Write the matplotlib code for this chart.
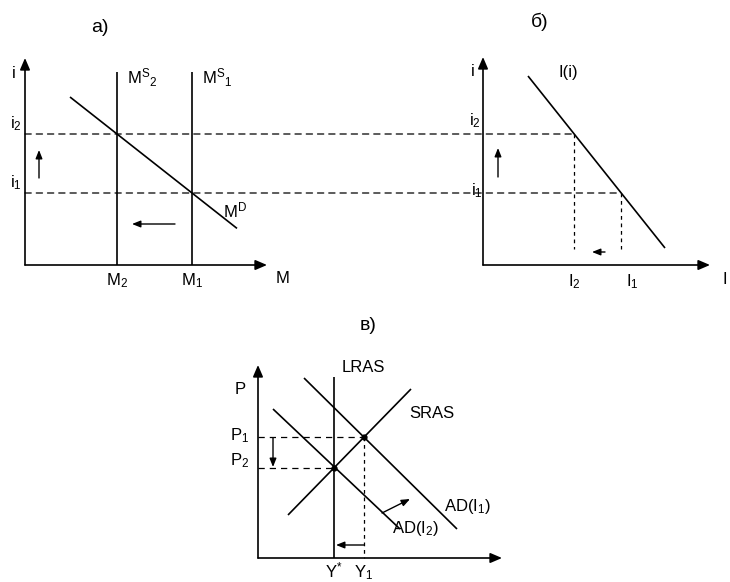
import matplotlib.pyplot as plt
from matplotlib.patches import ConnectionPatch

plt.rcParams['font.family'] = ['Liberation Sans', 'DejaVu Sans']
plt.rcParams['mathtext.fontset'] = 'custom'
plt.rcParams['mathtext.rm'] = 'Liberation Sans'
plt.rcParams['mathtext.it'] = 'Liberation Sans'

W, H = 730, 582
PX = 20  # pixels per diagram unit

# а) money market
m_supply = [4.6, 8.35]          # M2, M1
m_supply_names = [r'$\mathregular{M_2}$', r'$\mathregular{M_1}$']
m_supply_top = 9.65
rates = [6.55, 3.6]             # i2, i1
rate_names = [r'$\mathregular{i_2}$', r'$\mathregular{i_1}$']
m_demand_x = [2.25, 10.6]
m_demand_y = [8.4, 1.83]

# б) investment demand
invest = [4.55, 6.9]            # I2, I1
invest_names = [r'$\mathregular{I_2}$', r'$\mathregular{I_1}$']
invest_x = [2.25, 9.1]
invest_y = [9.45, 0.85]
invest_floor = 0.8

# в) AD-AS
y_levels = [3.8, 5.3]           # Y*, Y1
y_names = [r'$\mathregular{Y^{*}}$', r'$\mathregular{Y_1}$']
p_levels = [4.5, 6.05]          # P2, P1
p_names = [r'$\mathregular{P_2}$', r'$\mathregular{P_1}$']
lras_top = 9.05
sras_x, sras_y = [1.5, 7.65], [2.15, 8.45]
ad1_x, ad1_y = [2.3, 9.95], [9.0, 1.45]
ad2_x, ad2_y = [0.75, 7.1], [7.45, 1.45]

fig = plt.figure(figsize=(W / 100, H / 100), dpi=100)
fig.patch.set_facecolor('white')
FS = 12
TFS = 14
LW = 1.2


def arrow(ax, start, end, lw=LW, hl=0.7, hw=0.3):
    ax.annotate('', xy=end, xytext=start, annotation_clip=False,
                arrowprops=dict(arrowstyle=f'-|>,head_length={hl},head_width={hw}',
                                color='black', lw=lw, shrinkA=0, shrinkB=0))


def panel(ox, oy, w, h):
    ax = fig.add_axes([ox / W, (H - oy) / H, w * PX / W, h * PX / H])
    ax.set_xlim(0, w)
    ax.set_ylim(0, h)
    ax.axis('off')
    arrow(ax, (0, 0), (w, 0))
    arrow(ax, (0, 0), (0, h))
    return ax


def line(ax, x, y, **kw):
    kw.setdefault('color', 'black')
    kw.setdefault('lw', LW)
    ax.plot(x, y, clip_on=False, solid_capstyle='butt', **kw)


DASH = (0, (5, 4))
DOT = (0, (3, 3))

# ---- а) ----
ax_a = panel(25, 265, 12.1, 10.35)
for m in m_supply:
    line(ax_a, [m, m], [0, m_supply_top])
line(ax_a, m_demand_x, m_demand_y)
for m, s in zip(m_supply, m_supply_names):
    ax_a.text(m, -0.3, s, ha='center', va='top', fontsize=FS)
ax_a.text(12.9, -0.3, 'M', ha='center', va='top', fontsize=FS)
ax_a.text(-0.55, 9.6, 'i', ha='center', va='center', fontsize=FS)
for r, s in zip(rates, rate_names):
    ax_a.text(-0.45, r + 0.5, s, ha='center', va='center', fontsize=FS)
ax_a.text(5.1, 9.35, r'$\mathregular{M^{S}{}_{2}}$', ha='left', va='center', fontsize=FS)
ax_a.text(8.85, 9.35, r'$\mathregular{M^{S}{}_{1}}$', ha='left', va='center', fontsize=FS)
ax_a.text(9.9, 2.75, r'$\mathregular{M^{D}}$', ha='left', va='center', fontsize=FS)
ax_a.text(3.75, 11.9, 'а)', ha='center', va='center', fontsize=TFS)
arrow(ax_a, (0.7, 4.35), (0.7, 5.75), lw=1.0, hl=0.5, hw=0.2)
arrow(ax_a, (7.5, 2.05), (5.35, 2.05), lw=1.0, hl=0.5, hw=0.2)

# ---- б) ----
ax_b = panel(483, 265, 11.35, 10.4)
line(ax_b, invest_x, invest_y)
for v in range(2):
    line(ax_b, [invest[v], invest[v]], [rates[v], invest_floor], lw=0.9, linestyle=DOT)
ax_b.text(invest[0], -0.35, invest_names[0], ha='center', va='top', fontsize=FS)
ax_b.text(invest[1] + 0.55, -0.35, invest_names[1], ha='center', va='top', fontsize=FS)
ax_b.text(12.0, -0.35, 'I', ha='left', va='top', fontsize=FS)
ax_b.text(-0.5, 9.65, 'i', ha='center', va='center', fontsize=FS)
ax_b.text(-0.4, rates[0] + 0.65, rate_names[0], ha='center', va='center', fontsize=FS)
ax_b.text(-0.3, rates[1] + 0.1, rate_names[1], ha='center', va='center', fontsize=FS)
ax_b.text(4.25, 9.6, 'I(i)', ha='center', va='center', fontsize=FS)
ax_b.text(2.85, 12.15, 'б)', ha='center', va='center', fontsize=TFS)
arrow(ax_b, (0.75, 4.4), (0.75, 5.85), lw=1.0, hl=0.5, hw=0.2)
arrow(ax_b, (6.1, 0.65), (5.45, 0.65), lw=1.0, hl=0.5, hw=0.2)

# dashed rate levels run from the money market over to the investment curve
for r, inv in zip(rates, invest):
    con = ConnectionPatch(xyA=(0, r), coordsA=ax_a.transData,
                          xyB=(inv, r), coordsB=ax_b.transData,
                          color='black', lw=0.9, linestyle=DASH)
    fig.add_artist(con)

# ---- в) ----
ax_c = panel(258, 558, 12.2, 9.65)
line(ax_c, [y_levels[0], y_levels[0]], [0, lras_top])
line(ax_c, sras_x, sras_y)
line(ax_c, ad1_x, ad1_y)
line(ax_c, ad2_x, ad2_y)
for yv, pv in zip(y_levels, p_levels):
    line(ax_c, [0, yv], [pv, pv], lw=0.9, linestyle=DASH)
line(ax_c, [y_levels[1], y_levels[1]], [p_levels[1], 0], lw=0.9, linestyle=DOT)
ax_c.plot(y_levels, p_levels, 'o', color='black', ms=3.5, clip_on=False)
for yv, s in zip(y_levels, y_names):
    ax_c.text(yv, -0.95, s, ha='center', va='baseline', fontsize=FS)
ax_c.text(-0.9, 8.4, 'P', ha='center', va='center', fontsize=FS)
ax_c.text(-0.9, p_levels[1] + 0.05, p_names[1], ha='center', va='center', fontsize=FS)
ax_c.text(-0.9, p_levels[0] + 0.35, p_names[0], ha='center', va='center', fontsize=FS)
ax_c.text(4.2, 9.55, 'LRAS', ha='left', va='center', fontsize=FS)
ax_c.text(7.55, 7.25, 'SRAS', ha='left', va='center', fontsize=FS)
ax_c.text(9.3, 2.55, r'$\mathregular{AD(I_1)}$', ha='left', va='center', fontsize=FS)
ax_c.text(6.7, 1.45, r'$\mathregular{AD(I_2)}$', ha='left', va='center', fontsize=FS)
ax_c.text(5.5, 11.65, 'в)', ha='center', va='center', fontsize=TFS)
arrow(ax_c, (0.75, 6.0), (0.75, 4.55), lw=1.0, hl=0.5, hw=0.2)
arrow(ax_c, (6.2, 2.25), (7.6, 2.95), lw=1.0, hl=0.5, hw=0.2)
arrow(ax_c, (y_levels[1], 0.65), (3.9, 0.65), lw=1.0, hl=0.5, hw=0.2)

fig.savefig('out.png', dpi=100, facecolor='white')
